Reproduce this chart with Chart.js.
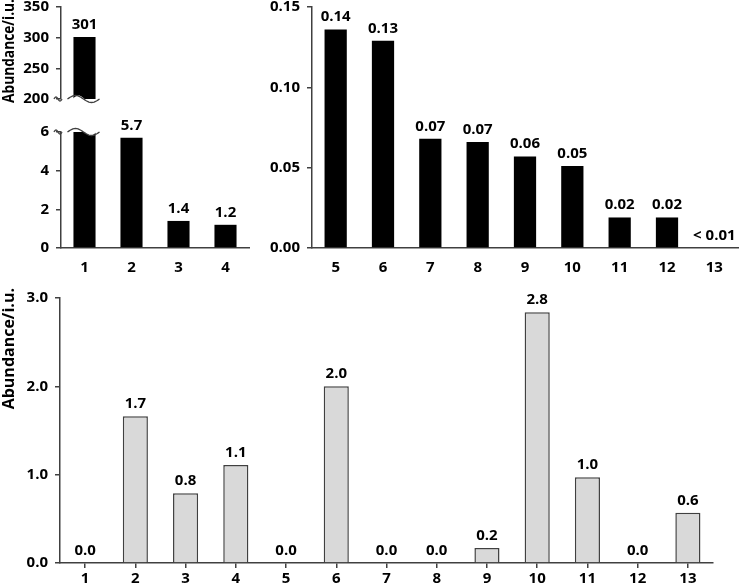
<!DOCTYPE html>
<html>
<head>
<meta charset="utf-8">
<script src="https://cdn.jsdelivr.net/npm/chart.js@4"></script>
<style>
  html, body { margin: 0; padding: 0; background: #fff; }
  #wrap { position: relative; width: 742px; height: 585px; overflow: hidden; }
  canvas { position: absolute; }
</style>
</head>
<body>
<div id="wrap">
  <canvas id="left" width="255" height="284" style="left:0;top:-9px"></canvas>
  <canvas id="right" width="487" height="284" style="left:255px;top:-9px"></canvas>
  <canvas id="bottom" width="742" height="310" style="left:0;top:275px"></canvas>
</div>
<script>
// top left panel (broken axis)
const leftCats = ['1', '2', '3', '4'];
const leftVals = [301, 5.7, 1.4, 1.2];
const leftLabels = ['301', '5.7', '1.4', '1.2'];
const LOW_MAX = 6, HIGH_MIN = 200, HIGH_MAX = 350;

// top right panel
const rightCats = ['5', '6', '7', '8', '9', '10', '11', '12', '13'];
const rightVals = [0.136, 0.129, 0.068, 0.066, 0.057, 0.051, 0.019, 0.019, 0];
const rightLabels = ['0.14', '0.13', '0.07', '0.07', '0.06', '0.05', '0.02', '0.02', '< 0.01'];

// bottom panel
const bottomCats = ['1', '2', '3', '4', '5', '6', '7', '8', '9', '10', '11', '12', '13'];
const bottomVals = [0, 1.66, 0.79, 1.11, 0, 2.0, 0, 0, 0.17, 2.84, 0.97, 0, 0.57];
const bottomLabels = ['0.0', '1.7', '0.8', '1.1', '0.0', '2.0', '0.0', '0.0', '0.2', '2.8', '1.0', '0.0', '0.6'];

const AXIS = '#404040';
const FONT = "'Open Sans', sans-serif";

Chart.defaults.font.family = FONT;
Chart.defaults.font.size = 15;
Chart.defaults.font.weight = 'bold';
Chart.defaults.color = '#000';
Chart.defaults.animation = false;
Chart.defaults.plugins.legend.display = false;
Chart.defaults.plugins.tooltip.enabled = false;

// numbers above the bars
const valueLabels = {
  id: 'valueLabels',
  afterDatasetsDraw(chart) {
    const ctx = chart.ctx;
    chart.data.datasets.forEach((ds, i) => {
      if (!ds.valueLabels) return;
      chart.getDatasetMeta(i).data.forEach((bar, j) => {
        const txt = ds.valueLabels[j];
        if (!txt) return;
        ctx.save();
        ctx.font = 'bold 15px ' + FONT;
        ctx.fillStyle = '#000';
        ctx.textAlign = 'center';
        ctx.textBaseline = 'alphabetic';
        ctx.fillText(txt, bar.x, bar.y - 8);
        ctx.restore();
      });
    });
  }
};

// rotated y title, anchored at the top of the plot
const yTitle = {
  id: 'yTitle',
  afterDraw(chart, args, opts) {
    if (!opts.text) return;
    const ctx = chart.ctx;
    ctx.save();
    ctx.translate(opts.x, chart.chartArea.top + opts.shift);
    ctx.rotate(-Math.PI / 2);
    ctx.font = 'bold 16px ' + FONT;
    ctx.fillStyle = '#000';
    ctx.textAlign = 'right';
    ctx.textBaseline = 'middle';
    ctx.fillText(opts.text, 0, 0, opts.maxWidth);
    ctx.restore();
  }
};

// wavy break marks on the axis and on bar 1
const axisBreak = {
  id: 'axisBreak',
  afterDatasetsDraw(chart) {
    const ctx = chart.ctx;
    const hi = chart.scales.yHigh, lo = chart.scales.yLow;
    const bar = chart.getDatasetMeta(0).data[0];
    const half = bar.width / 2;
    const wave = (x0, x1, y, amp) => {
      ctx.beginPath();
      for (let k = 0; k <= 24; k++) {
        const t = k / 24;
        const x = x0 + (x1 - x0) * t;
        const yy = y - amp * Math.sin(t * 2 * Math.PI);
        if (k) ctx.lineTo(x, yy); else ctx.moveTo(x, yy);
      }
    };
    ctx.save();
    ctx.strokeStyle = AXIS;
    ctx.lineWidth = 1.3;
    ctx.fillStyle = '#fff';

    const yH = hi.getPixelForValue(HIGH_MIN);
    wave(bar.x - half - 1, bar.x + half + 1, yH, 3.5);
    ctx.lineTo(bar.x + half + 1, yH + 8);
    ctx.lineTo(bar.x - half - 1, yH + 8);
    ctx.closePath();
    ctx.fill();
    wave(bar.x - half - 6, bar.x + half + 4, yH, 3.5);
    ctx.stroke();
    wave(hi.right - 7, hi.right + 1, yH, 2);
    ctx.stroke();

    const yL = lo.getPixelForValue(LOW_MAX);
    wave(bar.x - half - 1, bar.x + half + 1, yL, 3.5);
    ctx.lineTo(bar.x + half + 1, yL - 8);
    ctx.lineTo(bar.x - half - 1, yL - 8);
    ctx.closePath();
    ctx.fill();
    wave(bar.x - half - 6, bar.x + half + 4, yL, 3.5);
    ctx.stroke();
    wave(lo.right - 7, lo.right + 1, yL, 2);
    ctx.stroke();
    ctx.restore();
  }
};

function yAxis(extra) {
  return Object.assign({
    type: 'linear',
    position: 'left',
    border: { color: AXIS, width: 1.5 },
    grid: { drawOnChartArea: false, tickLength: 5, color: AXIS, lineWidth: 1.5 }
  }, extra);
}

function xAxis(extra) {
  return Object.assign({
    border: { color: AXIS, width: 1.5 },
    grid: { display: false, drawTicks: false },
    ticks: { padding: 11, maxRotation: 0, autoSkip: false, color: '#000' }
  }, extra);
}

// top left
new Chart(document.getElementById('left'), {
  type: 'bar',
  data: {
    labels: leftCats,
    datasets: [
      {
        yAxisID: 'yHigh',
        data: leftVals.map(v => v > LOW_MAX ? v : null),
        valueLabels: leftVals.map((v, i) => v > LOW_MAX ? leftLabels[i] : null),
        backgroundColor: '#000',
        grouped: false,
        barPercentage: 0.47,
        categoryPercentage: 1
      },
      {
        yAxisID: 'yLow',
        data: leftVals.map(v => Math.min(v, LOW_MAX)),
        valueLabels: leftVals.map((v, i) => v > LOW_MAX ? null : leftLabels[i]),
        backgroundColor: '#000',
        grouped: false,
        barPercentage: 0.47,
        categoryPercentage: 1
      }
    ]
  },
  options: {
    responsive: false,
    layout: { padding: { top: 0, right: 6, left: 0, bottom: 0 } },
    plugins: { yTitle: { text: 'Abundance/i.u.', x: 9, shift: -8, maxWidth: 104 } },
    scales: {
      x: xAxis({ afterFit: s => { s.height = 27; } }),
      yLow: yAxis({ stack: 'left', stackWeight: 116, min: 0, max: LOW_MAX,
        ticks: { stepSize: 2, padding: 7, autoSkip: false, color: '#000' },
        afterFit: s => { s.width = 61; } }),
      yGap: { type: 'linear', position: 'left', stack: 'left', stackWeight: 33,
        ticks: { display: false }, grid: { display: false }, border: { display: false },
        afterFit: s => { s.width = 61; } },
      yHigh: yAxis({ stack: 'left', stackWeight: 92, min: HIGH_MIN, max: HIGH_MAX,
        ticks: { stepSize: 50, padding: 7, autoSkip: false, color: '#000' },
        afterFit: s => { s.width = 61; } })
    }
  },
  plugins: [valueLabels, yTitle, axisBreak]
});

// top right
new Chart(document.getElementById('right'), {
  type: 'bar',
  data: {
    labels: rightCats,
    datasets: [{
      data: rightVals,
      valueLabels: rightLabels,
      backgroundColor: '#000',
      barPercentage: 0.47,
      categoryPercentage: 1
    }]
  },
  options: {
    responsive: false,
    layout: { padding: { top: 0, right: 4, left: 0, bottom: 0 } },
    scales: {
      x: xAxis({ afterFit: s => { s.height = 27; } }),
      y: yAxis({ min: 0, max: 0.15,
        ticks: { stepSize: 0.05, padding: 7, autoSkip: false, color: '#000', callback: v => v.toFixed(2) },
        afterFit: s => { s.width = 57; } })
    }
  },
  plugins: [valueLabels]
});

// bottom
new Chart(document.getElementById('bottom'), {
  type: 'bar',
  data: {
    labels: bottomCats,
    datasets: [{
      data: bottomVals,
      valueLabels: bottomLabels,
      backgroundColor: '#d9d9d9',
      borderColor: AXIS,
      borderWidth: 1.5,
      barPercentage: 0.5,
      categoryPercentage: 1
    }]
  },
  options: {
    responsive: false,
    layout: { padding: { top: 23, right: 29, left: 0, bottom: 0 } },
    plugins: { yTitle: { text: 'Abundance/i.u.', x: 9, shift: -10 } },
    scales: {
      x: xAxis({
        grid: { display: true, drawOnChartArea: false, offset: false, tickLength: 5, color: AXIS, lineWidth: 1.5 },
        ticks: { padding: 2, maxRotation: 0, autoSkip: false, color: '#000' },
        afterFit: s => { s.height = 22; }
      }),
      y: yAxis({ min: 0, max: 3,
        ticks: { stepSize: 1, padding: 7, autoSkip: false, color: '#000', callback: v => v.toFixed(1) },
        afterFit: s => { s.width = 60; } })
    }
  },
  plugins: [valueLabels, yTitle]
});
</script>
</body>
</html>
